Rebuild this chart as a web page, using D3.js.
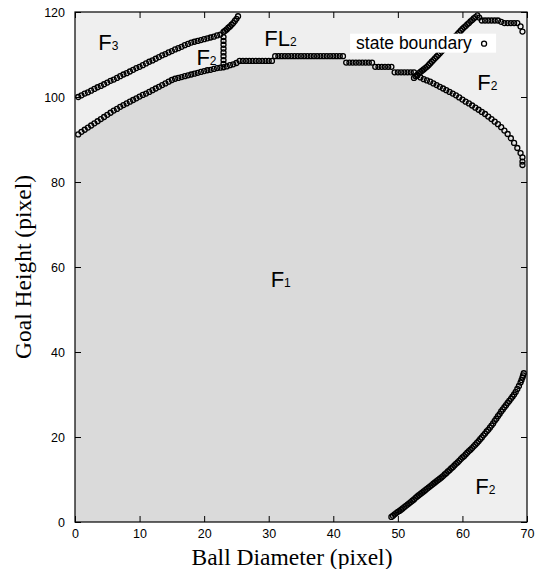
<!DOCTYPE html>
<html>
<head>
<meta charset="utf-8">
<script src="https://cdn.jsdelivr.net/npm/d3@7/dist/d3.min.js"></script>
<style>
  body { margin: 0; background: #fff; }
  svg text { fill: #000; }
</style>
</head>
<body>
<div id="chart"></div>
<script>
// state boundary points, [ball diameter, goal height]
var boundaryF3 = [
  [0.5,100.0],[1,100.4],[1.5,100.8],[2,101.1],[2.5,101.5],[3,101.9],[3.5,102.3],[4,102.6],
  [4.5,103.0],[5,103.4],[5.5,103.8],[6,104.1],[6.5,104.5],[7,104.9],[7.5,105.3],[8,105.6],
  [8.5,106.0],[9,106.4],[9.5,106.8],[10,107.1],[10.5,107.5],[11,107.9],[11.5,108.3],[12,108.6],
  [12.5,109.0],[13,109.4],[13.5,109.8],[14,110.1],[14.5,110.5],[15,110.8],[15.5,111.2],[16,111.5],
  [16.5,111.8],[17,112.2],[17.5,112.5],[18,112.8],[18.5,113.0],[19,113.2],[19.5,113.4],[20,113.6],
  [20.5,113.8],[21,114.0],[21.5,114.2],[22,114.5],[22.5,114.7],[23,115.3],[23.25,115.6],[23.5,115.9],
  [23.75,116.3],[24,116.6],[24.25,117.0],[24.5,117.4],[24.75,117.9],[25,118.4],[25.25,119.0]
];

var boundaryJunction = [
  [23,107.8],[23,108.7],[23,109.6],[23,110.5],[23,111.4],[23,112.3],[23,113.2],[23,114.1]
];

var boundaryF1Top = [
  [0.5,91.2],[1,91.8],[1.5,92.3],[2,92.8],[2.5,93.3],[3,93.8],[3.5,94.3],[4,94.8],
  [4.5,95.3],[5,95.8],[5.5,96.3],[6,96.8],[6.5,97.2],[7,97.7],[7.5,98.1],[8,98.5],
  [8.5,98.9],[9,99.3],[9.5,99.7],[10,100.1],[10.5,100.5],[11,100.8],[11.5,101.2],[12,101.6],
  [12.5,102.0],[13,102.4],[13.5,102.8],[14,103.2],[14.5,103.6],[15,104.0],[15.5,104.3],[16,104.5],
  [16.5,104.7],[17,104.9],[17.5,105.1],[18,105.3],[18.5,105.5],[19,105.7],[19.5,105.9],[20,106.1],
  [20.5,106.3],[21,106.4],[21.5,106.6],[22,106.8],[22.5,106.9],[23,107.0],[23.5,107.2],[24,107.5],
  [24.5,107.7],[25,108.0],[25.5,108.5],[26,108.5],[26.5,108.5],[27,108.5],[27.5,108.5],[28,108.5],
  [28.5,108.5],[29,108.5],[29.5,108.5],[30,108.5],[30.5,108.5],[31,109.6],[31.5,109.6],[32,109.6],
  [32.5,109.6],[33,109.6],[33.5,109.6],[34,109.6],[34.5,109.6],[35,109.6],[35.5,109.6],[36,109.6],
  [36.5,109.6],[37,109.6],[37.5,109.6],[38,109.6],[38.5,109.6],[39,109.6],[39.5,109.6],[40,109.6],
  [40.5,109.6],[41,109.6],[41.5,109.6],[42,108.1],[42.5,108.1],[43,108.1],[43.5,108.1],[44,108.1],
  [44.5,108.1],[45,108.1],[45.5,108.1],[46,108.1],[46.5,107.1],[47,107.1],[47.5,107.1],[48,107.1],
  [48.5,107.1],[49,107.1],[49.5,105.8],[50,105.8],[50.5,105.8],[51,105.8],[51.5,105.8],[52,105.8],
  [52.5,105.8],[53,105.0],[53.5,104.6],[54,104.2],[54.5,103.9],[55,103.6],[55.5,103.2],[56,102.8],
  [56.5,102.4],[57,102.0],[57.5,101.6],[58,101.2],[58.5,100.8],[59,100.4],[59.5,99.9],[60,99.4],
  [60.5,98.9],[61,98.5],[61.5,98.0],[62,97.5],[62.5,97.0],[63,96.5],[63.5,96.0],[64,95.4],
  [64.5,94.8],[65,94.2],[65.5,93.6],[66,92.9],[66.5,92.1],[67,91.3],[67.5,90.3],[68,89.2],
  [68.5,88.0],[69,86.8],[69.3,85.8],[69.3,84.8],[69.3,84.0]
];

var boundaryUpperRight = [
  [52.5,104.5],[52.75,104.9],[53,105.2],[53.25,105.6],[53.5,105.9],[53.75,106.2],[54,106.5],[54.25,106.8],
  [54.5,107.1],[54.75,107.5],[55,107.9],[55.25,108.3],[55.5,108.7],[55.75,109.1],[56,109.5],[56.25,109.9],
  [56.5,110.3],[56.75,110.7],[57,111.1],[57.25,111.6],[57.5,112.0],[57.75,112.4],[58,112.8],[58.25,113.2],
  [58.5,113.6],[58.75,114.0],[59,114.4],[59.25,114.8],[59.5,115.2],[59.75,115.6],[60,116.0],[60.25,116.4],
  [60.5,116.7],[60.75,117.1],[61,117.4],[61.25,117.8],[61.5,118.1],[61.75,118.5],[62,118.8],[62.3,119.2],
  [62.6,118.7],[63,118.0],[63.5,118.0],[64,118.0],[64.5,118.0],[65,118.0],[65.5,118.0],[66,117.7],
  [66.5,117.4],[67,117.4],[67.5,117.4],[68,117.4],[68.5,117.4],[69,116.6],[69.3,115.4]
];

var boundaryLowerRight = [
  [49,1.2],[49.25,1.5],[49.5,1.8],[49.75,2.1],[50,2.4],[50.25,2.6],[50.5,2.9],[50.75,3.2],
  [51,3.5],[51.25,3.8],[51.5,4.1],[51.75,4.4],[52,4.7],[52.25,5.0],[52.5,5.3],[52.75,5.7],
  [53,6.0],[53.25,6.3],[53.5,6.6],[53.75,6.9],[54,7.2],[54.25,7.5],[54.5,7.8],[54.75,8.1],
  [55,8.4],[55.25,8.7],[55.5,9.0],[55.75,9.3],[56,9.6],[56.25,9.9],[56.5,10.2],[56.75,10.5],
  [57,10.8],[57.25,11.2],[57.5,11.5],[57.75,11.9],[58,12.2],[58.25,12.6],[58.5,12.9],[58.75,13.3],
  [59,13.7],[59.25,14.0],[59.5,14.4],[59.75,14.8],[60,15.2],[60.25,15.5],[60.5,15.9],[60.75,16.3],
  [61,16.7],[61.25,17.0],[61.5,17.4],[61.75,17.8],[62,18.2],[62.25,18.6],[62.5,19.0],[62.75,19.5],
  [63,19.9],[63.25,20.4],[63.5,20.8],[63.75,21.3],[64,21.7],[64.25,22.2],[64.5,22.7],[64.75,23.2],
  [65,23.8],[65.25,24.3],[65.5,24.9],[65.75,25.4],[66,26.0],[66.25,26.5],[66.5,27.0],[66.75,27.5],
  [67,28.0],[67.25,28.5],[67.5,29.0],[67.75,29.5],[68,30.0],[68.25,30.6],[68.5,31.3],[68.75,32.0],
  [69,32.8],[69.15,33.4],[69.3,34.0],[69.4,34.5],[69.5,35.0]
];

var xTicks = [0, 10, 20, 30, 40, 50, 60, 70];
var yTicks = [0, 20, 40, 60, 80, 100, 120];

// region labels: main letter, subscript, anchor in data units
var regionLabels = [
  {main: "F", sub: "3", x: 3.6, y: 111.0},
  {main: "F", sub: "2", x: 18.8, y: 107.5},
  {main: "FL", sub: "2", x: 29.3, y: 112.0},
  {main: "F", sub: "2", x: 62.3, y: 101.7},
  {main: "F", sub: "1", x: 30.3, y: 55.3},
  {main: "F", sub: "2", x: 62.0, y: 6.5}
];

var width = 540, height = 569;
var margin = {top: 12, right: 13, bottom: 47, left: 75};
var w = width - margin.left - margin.right,
    h = height - margin.top - margin.bottom;

var svg = d3.select("#chart").append("svg")
  .attr("width", width)
  .attr("height", height)
  .style("font-family", "Arial, 'Liberation Sans', sans-serif");

var x = d3.scaleLinear().domain([0, 70]).range([0, w]);
var y = d3.scaleLinear().domain([0, 120]).range([h, 0]);

var g = svg.append("g")
  .attr("transform", "translate(" + margin.left + "," + margin.top + ")");

g.append("clipPath").attr("id", "plotclip")
  .append("rect").attr("width", w).attr("height", h);

var plot = g.append("g").attr("clip-path", "url(#plotclip)");

// light background (F2 / F3 / FL2 regions)
plot.append("rect")
  .attr("width", w).attr("height", h)
  .attr("fill", "#efefef");

// F1 region, bounded by the two lower boundaries
var f1Outline = [[0, 0], [0, 90.7]]
  .concat(boundaryF1Top)
  .concat([[70, 83.0], [70, 35.6]])
  .concat(boundaryLowerRight.slice().reverse())
  .concat([[48.8, 0]]);

var line = d3.line()
  .x(function(d) { return x(d[0]); })
  .y(function(d) { return y(d[1]); });

plot.append("path")
  .attr("fill", "#dadada")
  .attr("d", line(f1Outline) + "Z");

var allPoints = [].concat(boundaryF3, boundaryJunction, boundaryF1Top, boundaryUpperRight, boundaryLowerRight);

plot.selectAll(".pt")
  .data(allPoints)
  .enter().append("circle")
  .attr("class", "pt")
  .attr("cx", function(d) { return x(d[0]); })
  .attr("cy", function(d) { return y(d[1]); })
  .attr("r", 2.5)
  .attr("fill", "none")
  .attr("stroke", "#000")
  .attr("stroke-width", 1.3);

// region labels
var lab = g.selectAll(".region")
  .data(regionLabels)
  .enter().append("text")
  .attr("class", "region")
  .attr("x", function(d) { return x(d.x); })
  .attr("y", function(d) { return y(d.y); })
  .style("font-size", "22px");
lab.append("tspan").text(function(d) { return d.main; });
lab.append("tspan").style("font-size", "12px").text(function(d) { return d.sub; });

// legend
var legend = g.append("g").attr("transform", "translate(" + (x(42.6)) + "," + y(114.9) + ")");
legend.append("rect")
  .attr("x", 0).attr("y", 0).attr("width", 146).attr("height", 19)
  .attr("fill", "#fff");
legend.append("text")
  .attr("x", 6).attr("y", 15)
  .style("font-size", "17.5px")
  .text("state boundary");
legend.append("circle")
  .attr("cx", 134).attr("cy", 10).attr("r", 2.5)
  .attr("fill", "none").attr("stroke", "#000").attr("stroke-width", 1.3);

// axes, ticks inward on all four sides
g.append("g")
  .attr("transform", "translate(0," + h + ")")
  .call(d3.axisBottom(x).tickValues(xTicks).tickSizeInner(-6).tickSizeOuter(0).tickPadding(7));
g.append("g")
  .call(d3.axisLeft(y).tickValues(yTicks).tickSizeInner(-6).tickSizeOuter(0).tickPadding(10));
g.append("g")
  .call(d3.axisTop(x).tickValues(xTicks).tickSizeInner(-6).tickSizeOuter(0).tickFormat(""));
g.append("g")
  .attr("transform", "translate(" + w + ",0)")
  .call(d3.axisRight(y).tickValues(yTicks).tickSizeInner(-6).tickSizeOuter(0).tickFormat(""));

g.selectAll(".tick text").style("font-size", "12.5px").style("font-family", "Arial, 'Liberation Sans', sans-serif");
g.selectAll(".domain").remove();

g.append("rect")
  .attr("width", w).attr("height", h)
  .attr("fill", "none").attr("stroke", "#000").attr("stroke-width", 1.2);

// axis titles
svg.append("text")
  .attr("x", 292)
  .attr("y", 565)
  .attr("text-anchor", "middle")
  .style("font-family", "'Times New Roman', 'Liberation Serif', serif")
  .style("font-size", "23.5px")
  .text("Ball Diameter (pixel)");

svg.append("text")
  .attr("transform", "translate(31," + (margin.top + h / 2) + ") rotate(-90)")
  .attr("text-anchor", "middle")
  .style("font-family", "'Times New Roman', 'Liberation Serif', serif")
  .style("font-size", "23.5px")
  .text("Goal Height (pixel)");
</script>
</body>
</html>
